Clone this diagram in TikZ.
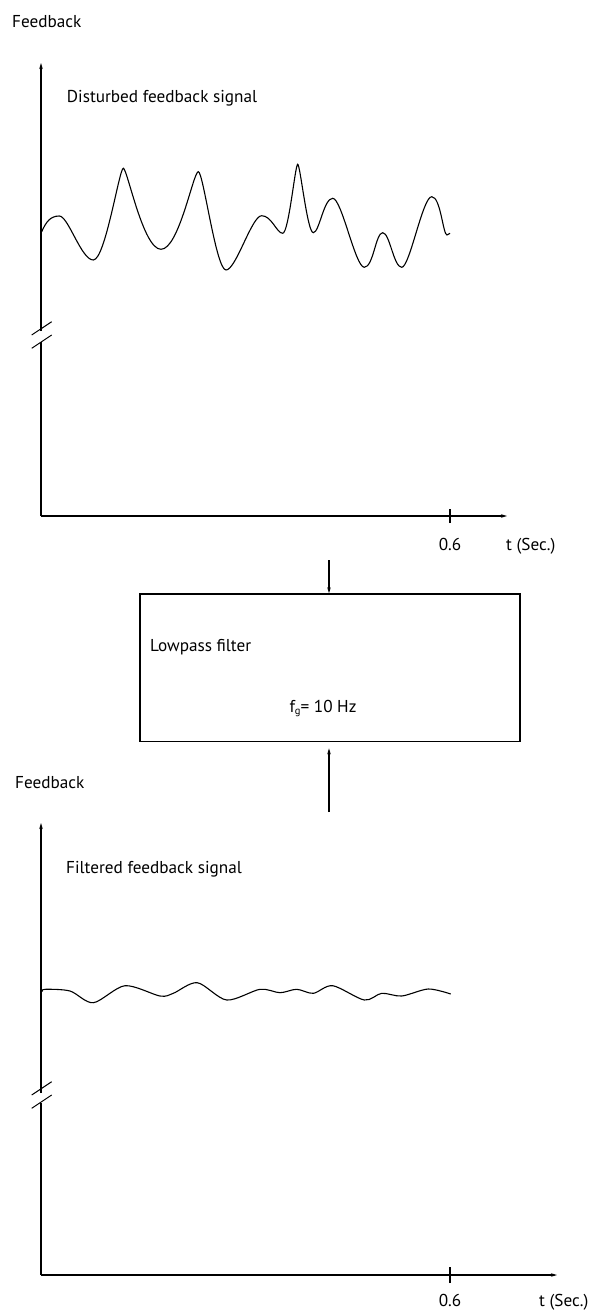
\documentclass[tikz,border=0pt]{standalone}
\usepackage{fontspec}
\setmainfont{PT Sans}
\usetikzlibrary{arrows.meta}
\begin{document}
\begin{tikzpicture}[x=1pt,y=-1pt,
  lbl/.style={anchor=base west, inner sep=0pt, font=\fontsize{17.2}{20}\selectfont},
  clbl/.style={anchor=base, inner sep=0pt, font=\fontsize{17.2}{20}\selectfont},
  axline/.style={line width=1.3pt},
  axarrow/.style={line width=1.3pt, -{Stealth[length=6pt,width=3.5pt]}},
  flow/.style={line width=1.3pt, -{Stealth[length=6pt,width=3.5pt]}},
  brk/.style={line width=1pt},
  sig/.style={line width=1.1pt},
  filterbox/.style={draw, line width=1.3pt, minimum width=380pt, minimum height=147.7pt, anchor=north west, inner sep=0pt}]
\useasboundingbox (0,0) rectangle (590,1313);

% ---------- top graph ----------
\node[lbl] (fb1) at (12,28) {Feedback};
\node[lbl] (sig1) at (66.7,103) {Disturbed feedback signal};
\coordinate (o1) at (41,516);
\coordinate (y1top) at (41,63);
\coordinate (y1a) at (41,331);
\coordinate (y1b) at (41,342);
\coordinate (x1end) at (507,516);
\coordinate (t1) at (450,516);
\draw[axline] (o1) -- (y1b);
\draw[axarrow] (y1a) -- (y1top);
\draw[axarrow] (o1) -- (x1end);
\draw[axline] ([yshift=-7pt]t1) -- ([yshift=7pt]t1);
\draw[brk] (31.7,335) -- (51.7,321.7);
\draw[brk] (31.7,348.3) -- (51.7,335);
\node[clbl] (v1) at (450,550.5) {0.6};
\node[lbl] (ts1) at (506,550.5) {t (Sec.)};
\draw[sig] (41.7,231.7) .. controls (46,222) and (50.3,216) .. (59.3,216)
  .. controls (68.3,216) and (81.3,260) .. (93.3,260)
  .. controls (105.3,260) and (119.3,168.3) .. (123.3,168.3)
  .. controls (127.3,168.3) and (143,249.3) .. (161,249.3)
  .. controls (179,249.3) and (193.3,171.7) .. (198.3,171.7)
  .. controls (203.3,171.7) and (216,270) .. (226,270)
  .. controls (236,270) and (251.7,215.7) .. (261.7,215.7)
  .. controls (271.7,215.7) and (276.7,233.3) .. (282.7,233.3)
  .. controls (288.7,233.3) and (295.2,164.3) .. (297.7,164.3)
  .. controls (300.2,164.3) and (307.3,232.7) .. (313.3,232.7)
  .. controls (319.3,232.7) and (323.7,198.3) .. (332.7,198.3)
  .. controls (341.7,198.3) and (355.3,267.3) .. (364.3,267.3)
  .. controls (373.3,267.3) and (375.7,232.7) .. (382.7,232.7)
  .. controls (389.7,232.7) and (393.7,267.3) .. (401.7,267.3)
  .. controls (409.7,267.3) and (422.7,196.7) .. (431.7,196.7)
  .. controls (440.7,196.7) and (443,235) .. (447,235)
  .. controls (448.5,235) .. (450,233.3);

% ---------- filter ----------
\node[filterbox] (box) at (139.3,593.3) {};
\node[lbl] (lp) at (150,651) {Lowpass filter};
\node[clbl] (fg) at (323,712.5) {f{\fontsize{10.5}{10}\selectfont\raisebox{-1.5pt}{g}}= 10 Hz};
\coordinate (in) at (329,560);
\coordinate (out) at (329,812);
\draw[flow] (in) -- (in |- box.north);
\draw[flow, shorten >=6pt] (out) -- (out |- box.south);

% ---------- bottom graph ----------
\node[lbl] (fb2) at (15,788) {Feedback};
\node[lbl] (sig2) at (66,873) {Filtered feedback signal};
\coordinate (o2) at (41,1275);
\coordinate (y2top) at (41,823);
\coordinate (y2a) at (41,1093);
\coordinate (y2b) at (41,1103);
\coordinate (x2end) at (557,1275);
\coordinate (t2) at (450,1275);
\draw[axline] (o2) -- (y2b);
\draw[axarrow] (y2a) -- (y2top);
\draw[axarrow] (o2) -- (x2end);
\draw[axline] ([yshift=-8pt]t2) -- ([yshift=8pt]t2);
\draw[brk] (31.7,1095) -- (51.7,1081.7);
\draw[brk] (31.7,1108.3) -- (51.7,1095);
\node[clbl] (v2) at (450,1306.5) {0.6};
\node[lbl] (ts2) at (539,1306.5) {t (Sec.)};
\draw[sig] plot[smooth, tension=0.5] coordinates {
 (42.3,991.7) (45,989.3) (70,991) (93.3,1002.7) (125,985.7) (160,996) (173.3,993.3)
 (197.3,982.7) (226.7,1000) (260,989.3) (280,992.7) (296.7,989.3) (313.3,993.3)
 (332.7,985.7) (364.3,1000) (381.7,993.3) (401.7,996) (428.3,989) (450.7,994)};
\end{tikzpicture}
\end{document}
